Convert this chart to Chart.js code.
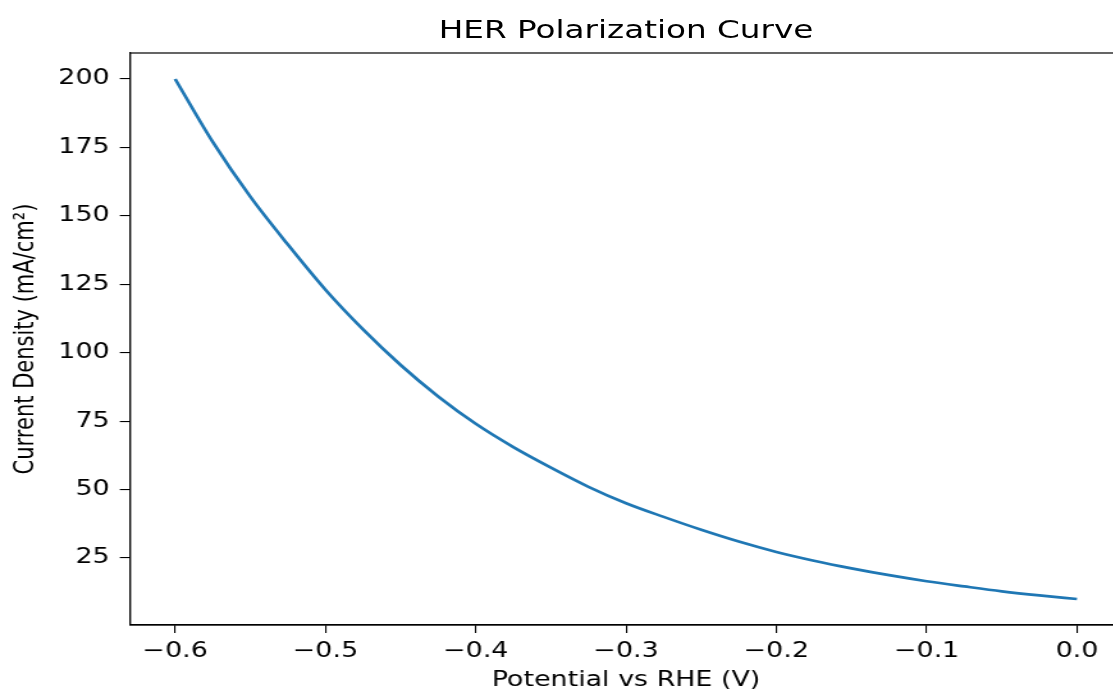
<!DOCTYPE html>
<html>
<head>
<meta charset="utf-8">
<script src="https://cdn.jsdelivr.net/npm/chart.js@4.4.1/dist/chart.umd.min.js"></script>
<style>
  html, body { margin: 0; padding: 0; background: #fff; overflow: hidden; }
  /* reference is a horizontally stretched image, so stretch the whole figure */
  #wrap { position: relative; width: 880px; height: 690px; transform: scaleX(1.28); transform-origin: 0 0; }
  #title { position: absolute; left: 101.6px; width: 775px; top: 17.4px; text-align: center;
           font: 25.5px/1 'DejaVu Sans'; color: #000; white-space: nowrap; }
  canvas { position: absolute; left: 0; top: 0; }
</style>
</head>
<body>
<div id="wrap">
  <div id="title">HER Polarization Curve</div>
  <canvas id="herChart" width="880" height="690"></canvas>
</div>
<script>
// values
const potential = [-0.600, -0.575, -0.550, -0.525, -0.500, -0.475, -0.450, -0.425, -0.400,
                   -0.375, -0.350, -0.325, -0.300, -0.275, -0.250, -0.225, -0.200, -0.175,
                   -0.150, -0.125, -0.100, -0.075, -0.050, -0.025, 0.000];
const currentDensity = [200, 177, 157, 139.5, 123, 108.5, 95.5, 84, 74,
                        65.5, 58, 51, 45, 40, 35.3, 31, 27.2, 24,
                        21.2, 18.7, 16.5, 14.6, 12.8, 11.3, 10];
const xTicks = [-0.6, -0.5, -0.4, -0.3, -0.2, -0.1, 0.0];
const yTicks = [25, 50, 75, 100, 125, 150, 175, 200];

Chart.defaults.font.family = "'DejaVu Sans', sans-serif";
Chart.defaults.color = '#000';

const frame = {
  id: 'frame',
  afterDatasetsDraw(chart) {
    const { ctx, chartArea: a } = chart;
    ctx.save();
    ctx.strokeStyle = '#000';
    ctx.lineWidth = 1.2;
    ctx.strokeRect(a.left, a.top, a.right - a.left, a.bottom - a.top);
    ctx.restore();
  }
};

const axisGrid = { drawOnChartArea: false, color: '#000', lineWidth: 1.1, tickLength: 8 };
const axisBorder = { display: true, color: '#000', width: 1.2 };

new Chart(document.getElementById('herChart'), {
  type: 'line',
  data: {
    datasets: [{
      data: potential.map((p, i) => ({ x: p, y: currentDensity[i] })),
      borderColor: '#1f77b4',
      borderWidth: 2.7,
      pointRadius: 0,
      cubicInterpolationMode: 'monotone',
      fill: false
    }]
  },
  options: {
    responsive: false,
    animation: false,
    devicePixelRatio: 1,
    layout: { padding: { top: 53, right: 3.4, bottom: 0, left: 0 } },
    plugins: { legend: { display: false }, title: { display: false }, tooltip: { enabled: false } },
    scales: {
      x: {
        type: 'linear',
        min: -0.63,
        max: 0.03,
        afterBuildTicks: s => { s.ticks = xTicks.map(v => ({ value: v })); },
        afterFit: s => { s.height = 65; },
        grid: axisGrid,
        border: axisBorder,
        ticks: {
          padding: 8,
          maxRotation: 0,
          font: { size: 21, lineHeight: 1 },
          callback: v => v.toFixed(1).replace('-', '\u2212')
        },
        title: { display: true, text: 'Potential vs RHE (V)', font: { size: 21, lineHeight: 0.9 }, padding: 0 }
      },
      y: {
        type: 'linear',
        min: 0.5,
        max: 209.5,
        afterBuildTicks: s => { s.ticks = yTicks.map(v => ({ value: v })); },
        afterFit: s => { s.width = 101.6; },
        grid: axisGrid,
        border: axisBorder,
        ticks: { padding: 8, font: { size: 21, lineHeight: 1 }, callback: v => String(v) },
        title: { display: true, text: 'Current Density (mA/cm\u00b2)', font: { size: 21, lineHeight: 1 }, padding: { top: 9.8, bottom: 0 } }
      }
    }
  },
  plugins: [frame]
});
</script>
</body>
</html>
